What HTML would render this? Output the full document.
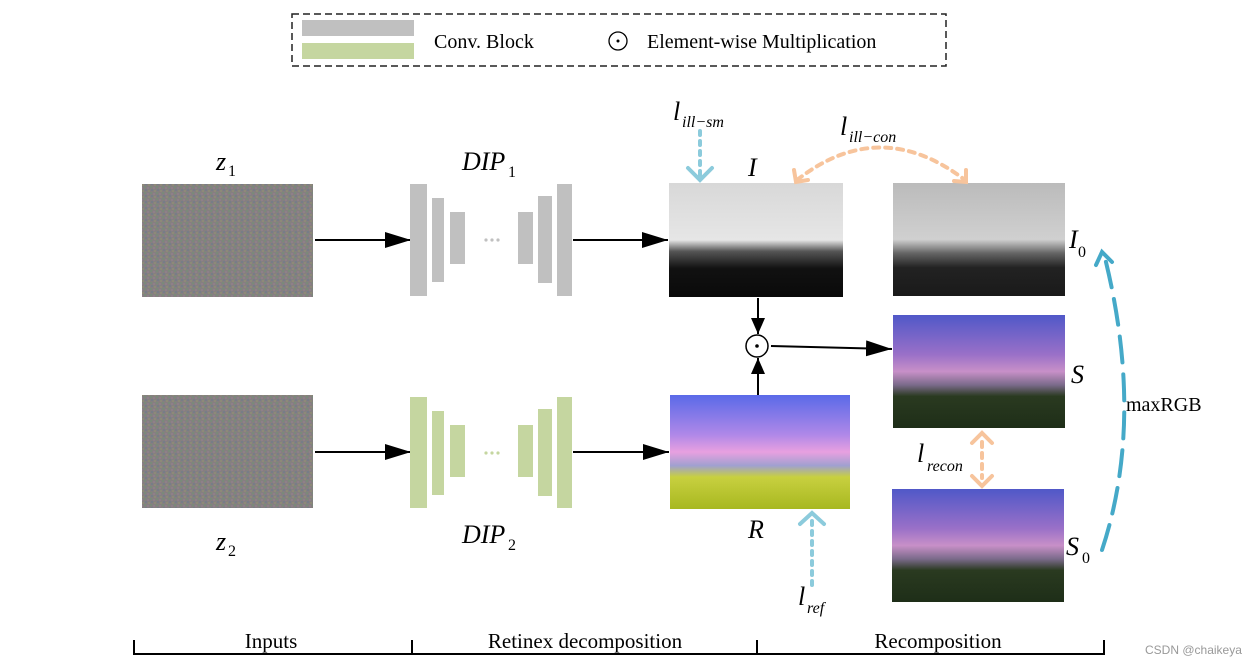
<!DOCTYPE html>
<html><head><meta charset="utf-8"><style>
body{margin:0;background:#fff;}
svg{display:block;font-family:"Liberation Serif",serif;}
</style></head><body>
<svg width="1242" height="665" viewBox="0 0 1242 665" xmlns="http://www.w3.org/2000/svg">
<defs>
<pattern id="noise" width="6" height="6" patternUnits="userSpaceOnUse">
<rect width="6" height="6" fill="#858080"/>
<rect x="0" y="0" width="2" height="2" fill="#7a8a7a"/><rect x="3" y="1" width="2" height="2" fill="#8f7f8a"/>
<rect x="1" y="3" width="2" height="2" fill="#777d88"/><rect x="4" y="4" width="2" height="2" fill="#8d8a78"/>
</pattern>
<linearGradient id="gI" x1="0" y1="0" x2="0" y2="1"><stop offset="0" stop-color="#d8d8d8"/><stop offset="0.5" stop-color="#e6e6e6"/><stop offset="0.6" stop-color="#555"/><stop offset="0.75" stop-color="#111"/><stop offset="1" stop-color="#0a0a0a"/></linearGradient>
<linearGradient id="gI0" x1="0" y1="0" x2="0" y2="1"><stop offset="0" stop-color="#bbb"/><stop offset="0.5" stop-color="#d0d0d0"/><stop offset="0.62" stop-color="#666"/><stop offset="0.75" stop-color="#222"/><stop offset="1" stop-color="#1a1a1a"/></linearGradient>
<linearGradient id="gS" x1="0" y1="0" x2="0" y2="1"><stop offset="0" stop-color="#5058c8"/><stop offset="0.35" stop-color="#9a70c8"/><stop offset="0.5" stop-color="#c890c8"/><stop offset="0.62" stop-color="#7a6a8a"/><stop offset="0.72" stop-color="#2a3a20"/><stop offset="1" stop-color="#1e2e18"/></linearGradient>
<linearGradient id="gR" x1="0" y1="0" x2="0" y2="1"><stop offset="0" stop-color="#5a6ae8"/><stop offset="0.35" stop-color="#b088e8"/><stop offset="0.5" stop-color="#e8a0e0"/><stop offset="0.62" stop-color="#a0a0d0"/><stop offset="0.72" stop-color="#c8d040"/><stop offset="1" stop-color="#a8b820"/></linearGradient>
<marker id="ah" viewBox="0 0 26 16" refX="26" refY="8" markerWidth="26" markerHeight="16" markerUnits="userSpaceOnUse" orient="auto"><path d="M0,0 L26,8 L0,16z" fill="#000"/></marker>
<marker id="ahs" viewBox="0 0 16 14" refX="16" refY="7" markerWidth="16" markerHeight="14" markerUnits="userSpaceOnUse" orient="auto"><path d="M0,0 L16,7 L0,14z" fill="#000"/></marker>
</defs>
<!-- legend -->
<rect x="292" y="14" width="654" height="52" fill="none" stroke="#222" stroke-width="1.5" stroke-dasharray="7,4"/>
<rect x="302" y="20" width="112" height="16" fill="#c0c0c0"/>
<rect x="302" y="43" width="112" height="16" fill="#c5d6a0"/>
<text x="434" y="48" font-size="20">Conv. Block</text>
<circle cx="618" cy="41" r="9" fill="none" stroke="#000" stroke-width="1.3"/><circle cx="618" cy="41" r="1.5"/>
<text x="647" y="48" font-size="20">Element-wise Multiplication</text>
<!-- noise -->
<rect x="142" y="184" width="171" height="113" fill="url(#noise)"/>
<rect x="142" y="395" width="171" height="113" fill="url(#noise)"/>
<text x="216" y="170" font-size="26" font-style="italic">z</text><text x="228" y="176" font-size="16">1</text>
<text x="216" y="550" font-size="26" font-style="italic">z</text><text x="228" y="556" font-size="16">2</text>
<g stroke="#000" stroke-width="2">
<line x1="315" y1="240" x2="411" y2="240" marker-end="url(#ah)"/><line x1="315" y1="452" x2="411" y2="452" marker-end="url(#ah)"/>
<line x1="573" y1="240" x2="668" y2="240" marker-end="url(#ah)"/><line x1="573" y1="452" x2="669" y2="452" marker-end="url(#ah)"/>
<line x1="758" y1="298" x2="758" y2="334" marker-end="url(#ahs)"/><line x1="758" y1="395" x2="758" y2="358" marker-end="url(#ahs)"/>
<line x1="771" y1="346" x2="892" y2="349" marker-end="url(#ah)"/>
</g>
<!-- DIP1 -->
<g fill="#c0c0c0">
<rect x="410" y="184" width="17" height="112"/><rect x="432" y="198" width="12" height="84"/><rect x="450" y="212" width="15" height="52"/>
<rect x="518" y="212" width="15" height="52"/><rect x="538" y="196" width="14" height="87"/><rect x="557" y="184" width="15" height="112"/>
<circle cx="486" cy="240" r="1.6"/><circle cx="492" cy="240" r="1.6"/><circle cx="498" cy="240" r="1.6"/>
</g>
<g fill="#c5d6a0">
<rect x="410" y="397" width="17" height="111"/><rect x="432" y="411" width="12" height="84"/><rect x="450" y="425" width="15" height="52"/>
<rect x="518" y="425" width="15" height="52"/><rect x="538" y="409" width="14" height="87"/><rect x="557" y="397" width="15" height="111"/>
<circle cx="486" cy="453" r="1.6"/><circle cx="492" cy="453" r="1.6"/><circle cx="498" cy="453" r="1.6"/>
</g>
<text x="462" y="170" font-size="26" font-style="italic">DIP</text><text x="508" y="177" font-size="16">1</text>
<text x="462" y="543" font-size="26" font-style="italic">DIP</text><text x="508" y="550" font-size="16">2</text>
<!-- images -->
<rect x="669" y="183" width="174" height="114" fill="url(#gI)"/>
<rect x="670" y="395" width="180" height="114" fill="url(#gR)"/>
<rect x="893" y="183" width="172" height="113" fill="url(#gI0)"/>
<rect x="893" y="315" width="172" height="113" fill="url(#gS)"/>
<rect x="892" y="489" width="172" height="113" fill="url(#gS)"/>
<text x="748" y="176" font-size="26" font-style="italic">I</text>
<text x="748" y="538" font-size="26" font-style="italic">R</text>
<text x="1069" y="248" font-size="26" font-style="italic">I</text><text x="1078" y="257" font-size="16">0</text>
<text x="1071" y="383" font-size="26" font-style="italic">S</text>
<text x="1066" y="555" font-size="26" font-style="italic">S</text><text x="1082" y="563" font-size="16">0</text>
<circle cx="757" cy="346" r="11" fill="#fff" stroke="#000" stroke-width="1.5"/><circle cx="757" cy="346" r="1.8"/>
<!-- loss labels -->
<text x="673" y="120" font-size="26" font-style="italic">l</text><text x="682" y="127" font-size="16" font-style="italic">ill−sm</text>
<text x="840" y="135" font-size="26" font-style="italic">l</text><text x="849" y="142" font-size="16" font-style="italic">ill−con</text>
<text x="917" y="462" font-size="26" font-style="italic">l</text><text x="927" y="471" font-size="16" font-style="italic">recon</text>
<text x="798" y="605" font-size="26" font-style="italic">l</text><text x="807" y="613" font-size="16" font-style="italic">ref</text>
<text x="1126" y="411" font-size="20">maxRGB</text>
<!-- dashed loss arrows -->
<g fill="none" stroke-width="4" stroke-linecap="round">
<line x1="700" y1="131" x2="700" y2="178" stroke="#8ccbdc" stroke-dasharray="4,6"/>
<path d="M688,168 L700,180 L712,168" stroke="#8ccbdc"/>
<line x1="812" y1="585" x2="812" y2="516" stroke="#8ccbdc" stroke-dasharray="4,6"/>
<path d="M800,524 L812,513 L824,524" stroke="#8ccbdc"/>
<path d="M797,180 Q880,115 965,180" stroke="#f7c49c" stroke-dasharray="6,6"/>
<path d="M794,170 L796,182 L808,180" stroke="#f7c49c"/>
<path d="M954,181 L966,182 L966,170" stroke="#f7c49c"/>
<line x1="982" y1="442" x2="982" y2="478" stroke="#f7c49c" stroke-dasharray="5,6"/>
<path d="M972,443 L982,433 L992,443" stroke="#f7c49c"/>
<path d="M972,476 L982,486 L992,476" stroke="#f7c49c"/>
<path d="M1102,550 Q1145,420 1105,258" stroke="#45a9c8" stroke-dasharray="26,12"/>
<path d="M1096,265 L1102,252 L1112,262" stroke="#45a9c8"/>
</g>
<!-- bottom axis -->
<g stroke="#000" stroke-width="2" fill="none">
<line x1="134" y1="654" x2="1104" y2="654"/>
<line x1="134" y1="640" x2="134" y2="655"/><line x1="412" y1="640" x2="412" y2="655"/>
<line x1="757" y1="640" x2="757" y2="655"/><line x1="1104" y1="640" x2="1104" y2="655"/>
</g>
<text x="271" y="648" font-size="21" text-anchor="middle">Inputs</text>
<text x="585" y="648" font-size="21" text-anchor="middle">Retinex decomposition</text>
<text x="938" y="648" font-size="21" text-anchor="middle">Recomposition</text>
<text x="1145" y="654" font-size="12" fill="#999" font-family="Liberation Sans,sans-serif">CSDN @chaikeya</text>
</svg>
</body></html>
